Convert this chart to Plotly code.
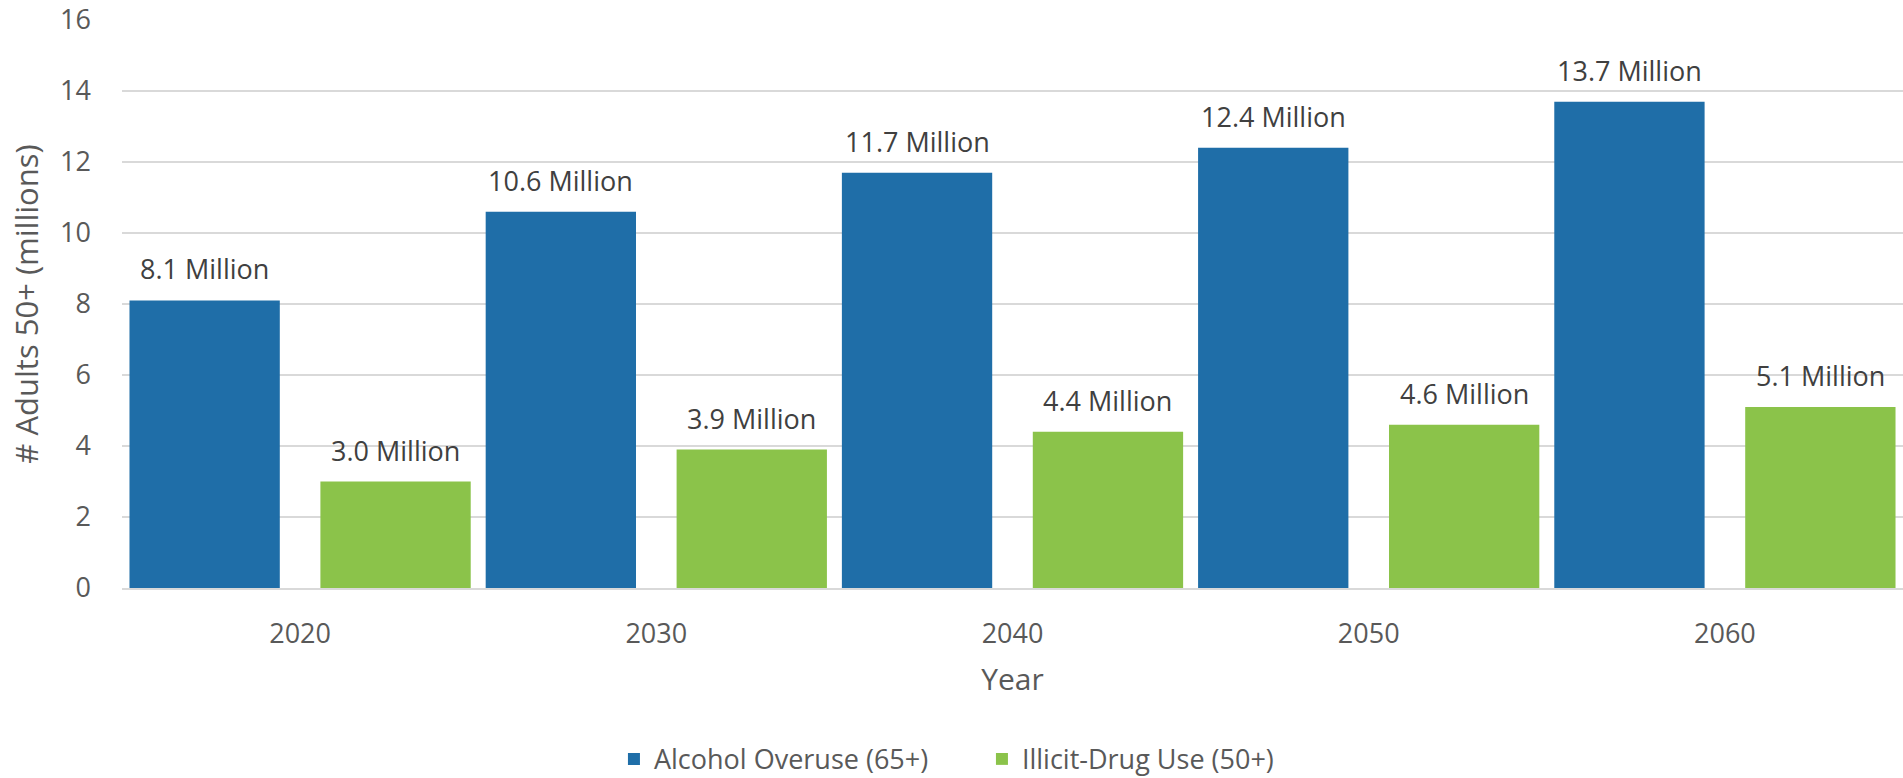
import plotly.graph_objects as go

years = ["2020", "2030", "2040", "2050", "2060"]
alcohol = [8.1, 10.6, 11.7, 12.4, 13.7]
drugs = [3.0, 3.9, 4.4, 4.6, 5.1]
series_names = ["Alcohol Overuse (65+)", "Illicit-Drug Use (50+)"]
y_ticks = [0, 2, 4, 6, 8, 10, 12, 14, 16]

BLUE = "#1F6EA8"
GREEN = "#8BC34A"
FONT = "Open Sans"
TICK_COLOR = "#595959"
LABEL_COLOR = "#404040"

BAR_W = 0.422
OFFS = (-0.479, 0.057)
fig = go.Figure()
fig.add_trace(go.Bar(x=years, y=alcohol, name=series_names[0], marker_color=BLUE,
                     width=BAR_W, offset=OFFS[0], marker_line_width=0))
fig.add_trace(go.Bar(x=years, y=drugs, name=series_names[1], marker_color=GREEN,
                     width=BAR_W, offset=OFFS[1], marker_line_width=0))

annotations = []
for i, yr in enumerate(years):
    for val, off in ((alcohol[i], OFFS[0]), (drugs[i], OFFS[1])):
        annotations.append(dict(
            x=i + off + BAR_W / 2, y=val, xref="x", yref="y",
            text=f"{val:.1f} Million", showarrow=False,
            yanchor="bottom", yshift=11,
            font=dict(family=FONT, size=27, color=LABEL_COLOR)))

fig.update_layout(
    width=1903, height=778,
    margin=dict(l=122, r=0, t=20, b=190, autoexpand=False),
    plot_bgcolor="white", paper_bgcolor="white",
    barmode="group",
    showlegend=True,
    legend=dict(orientation="h", xref="container", yref="container",
                x=0.516, xanchor="center", y=0.024, yanchor="middle",
                font=dict(family=FONT, size=27, color=TICK_COLOR),
                entrywidth=323, traceorder="normal"),
    annotations=annotations,
    font=dict(family=FONT, color=TICK_COLOR),
)
fig.update_xaxes(
    type="category", range=[-0.5, 4.5], automargin=False,
    showgrid=False, showline=True, linecolor="#D9D9D9", linewidth=2,
    tickfont=dict(family=FONT, size=27, color=TICK_COLOR),
    ticks="", ticklabelstandoff=21,
    title=dict(text="Year", font=dict(family=FONT, size=30, color=TICK_COLOR), standoff=19),
)
fig.update_yaxes(
    range=[0, 16], tickvals=y_ticks, automargin=False,
    showgrid=True, gridcolor="#D9D9D9", gridwidth=1.5, zeroline=False,
    tickfont=dict(family=FONT, size=27, color=TICK_COLOR),
    ticks="", ticklabelstandoff=30,
    title=dict(text="# Adults 50+ (millions)", font=dict(family=FONT, size=31, color=TICK_COLOR), standoff=12),
)

fig.write_html("out.html", config={"displayModeBar": False},
               post_script="document.body.style.margin='0px';document.body.style.overflow='hidden';")
